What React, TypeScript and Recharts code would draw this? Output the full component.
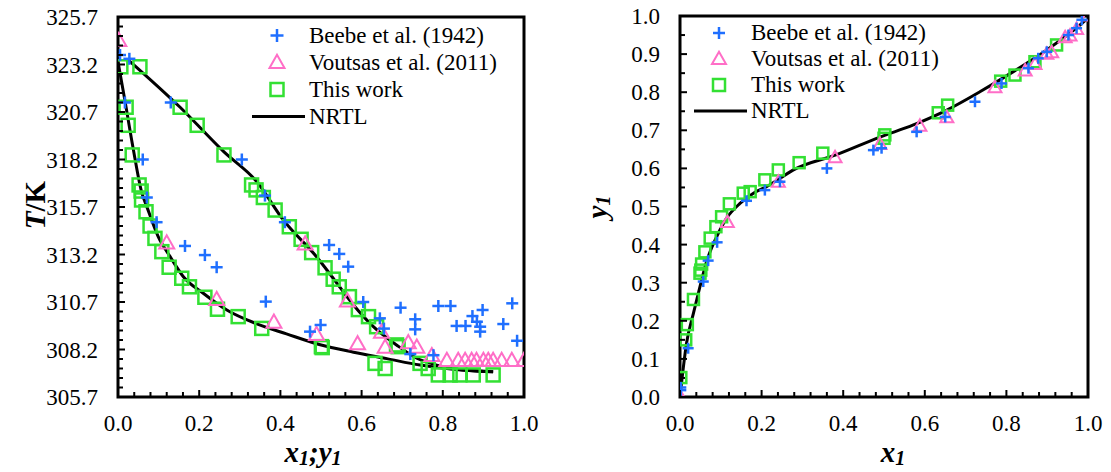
import React from 'react';
import { ComposedChart, Scatter, Line, XAxis, YAxis, ReferenceArea, Legend } from 'recharts';

const FONT = 'Liberation Serif, Tinos, DejaVu Serif, Times New Roman, serif';
const BLUE = '#1f6fff';
const PINK = '#ff6ec7';
const GREEN = '#33e033';
const FS = 23;

// ---- T-x-y (left panel) ----
const beebeTxX = [0.005, 0.028, 0.017, 0.13, 0.061, 0.305, 0.071, 0.362, 0.095, 0.411, 0.165, 0.214, 0.243, 0.52, 0.545, 0.567, 0.364, 0.473, 0.499, 0.604, 0.645, 0.655, 0.696, 0.732, 0.732, 0.72, 0.777, 0.789, 0.819, 0.834, 0.856, 0.873, 0.898, 0.884, 0.892, 0.892, 0.949, 0.971, 0.983];
const beebeTxT = [323.7, 323.5, 321.2, 321.2, 318.2, 318.2, 316.2, 316.3, 314.9, 314.9, 313.65, 313.17, 312.53, 313.7, 313.23, 312.56, 310.72, 309.14, 309.49, 310.7, 309.84, 309.3, 310.4, 309.79, 309.26, 307.96, 307.9, 310.49, 310.49, 309.44, 309.44, 309.96, 310.28, 309.66, 309.4, 309.14, 309.54, 310.63, 308.66];

const voutsasTxX = [0.002, 0.12, 0.243, 0.384, 0.489, 0.461, 0.565, 0.59, 0.649, 0.658, 0.715, 0.736, 0.773, 0.81, 0.838, 0.855, 0.871, 0.883, 0.9, 0.912, 0.924, 0.945, 0.97, 1.0];
const voutsasTxT = [324.4, 313.75, 310.77, 309.58, 308.93, 313.7, 310.7, 308.44, 309.05, 308.26, 308.5, 308.26, 307.82, 307.56, 307.56, 307.56, 307.56, 307.56, 307.56, 307.56, 307.56, 307.56, 307.56, 307.56];

const thisWorkTxX = [0.007, 0.02, 0.025, 0.035, 0.052, 0.057, 0.058, 0.069, 0.079, 0.091, 0.108, 0.126, 0.157, 0.176, 0.214, 0.245, 0.296, 0.354, 0.501, 0.503, 0.633, 0.658,
  0.054, 0.153, 0.195, 0.261, 0.329, 0.34, 0.358, 0.387, 0.422, 0.451, 0.477, 0.51, 0.53, 0.545, 0.57, 0.592, 0.617, 0.637, 0.686, 0.69, 0.744, 0.764,
  0.789, 0.818, 0.842, 0.875, 0.924];
const thisWorkTxT = [323.08, 320.95, 320.0, 318.44, 316.86, 316.54, 316.07, 315.45, 314.7, 314.05, 313.35, 312.53, 311.95, 311.5, 310.95, 310.32, 309.93, 309.31, 308.35, 308.3, 307.47, 307.2,
  323.08, 320.95, 320.0, 318.44, 316.86, 316.6, 316.2, 315.54, 314.66, 314.0, 313.3, 312.5, 311.9, 311.5, 310.98, 310.3, 309.93, 309.4, 308.44, 308.35, 307.47, 307.2,
  306.86, 306.86, 306.86, 306.86, 306.86];

const nrtlBubbleX = [0, 0.017, 0.038, 0.058, 0.071, 0.099, 0.128, 0.161, 0.21, 0.268, 0.342, 0.415, 0.498, 0.58, 0.662, 0.744, 0.826, 0.924];
const nrtlBubbleT = [323.35, 321.3, 318.7, 316.5, 315.72, 314.14, 313.1, 312.03, 311.16, 310.28, 309.55, 309.02, 308.45, 308.06, 307.72, 307.38, 307.16, 307.03];
const nrtlDewY = [0.025, 0.153, 0.261, 0.342, 0.407, 0.489, 0.53, 0.58, 0.629, 0.686, 0.736, 0.785, 0.85, 0.924];
const nrtlDewT = [323.45, 320.95, 318.6, 317.03, 315.02, 313.08, 311.95, 310.54, 309.4, 308.44, 307.74, 307.38, 307.12, 307.03];

// ---- x-y (right panel) ----
const beebeXyX = [0.002, 0.002, 0.02, 0.057, 0.069, 0.091, 0.163, 0.208, 0.245, 0.36, 0.474, 0.494, 0.58, 0.65, 0.723, 0.788, 0.854, 0.878, 0.899, 0.952, 0.972, 0.985];
const beebeXyY = [0.025, 0.018, 0.128, 0.303, 0.358, 0.406, 0.515, 0.543, 0.565, 0.6, 0.648, 0.653, 0.696, 0.735, 0.775, 0.823, 0.863, 0.889, 0.906, 0.95, 0.968, 0.99];

const voutsasXyX = [0, 0.116, 0.241, 0.38, 0.49, 0.588, 0.654, 0.772, 0.846, 0.87, 0.899, 0.911, 0.944, 0.956, 0.972, 1.0];
const voutsasXyY = [0, 0.456, 0.562, 0.626, 0.661, 0.709, 0.731, 0.81, 0.854, 0.871, 0.898, 0.902, 0.941, 0.946, 0.963, 0.998];

const thisWorkXyX = [0.002, 0.014, 0.018, 0.033, 0.049, 0.051, 0.053, 0.061, 0.074, 0.088, 0.102, 0.121, 0.155, 0.172, 0.208, 0.241, 0.292, 0.35, 0.5, 0.502, 0.633, 0.656, 0.786, 0.821, 0.87, 0.923];
const thisWorkXyY = [0.051, 0.15, 0.19, 0.256, 0.325, 0.333, 0.349, 0.381, 0.417, 0.447, 0.473, 0.507, 0.535, 0.539, 0.57, 0.596, 0.615, 0.64, 0.679, 0.688, 0.746, 0.766, 0.829, 0.845, 0.88, 0.924];

const nrtlXyX = [0.002, 0.016, 0.033, 0.049, 0.065, 0.09, 0.114, 0.147, 0.18, 0.212, 0.245, 0.278, 0.384, 0.49, 0.572, 0.654, 0.735, 0.817, 0.899, 0.98, 0.995];
const nrtlXyY = [0.02, 0.141, 0.22, 0.29, 0.355, 0.421, 0.469, 0.508, 0.535, 0.552, 0.574, 0.596, 0.636, 0.682, 0.714, 0.753, 0.801, 0.854, 0.911, 0.976, 0.99];

// ---- ticks ----
const xMajor = [0, 0.2, 0.4, 0.6, 0.8, 1.0];
const tMajor = [305.7, 308.2, 310.7, 313.2, 315.7, 318.2, 320.7, 323.2, 325.7];
const yMajor = [0, 0.1, 0.2, 0.3, 0.4, 0.5, 0.6, 0.7, 0.8, 0.9, 1.0];
const xMinor = Array.from({ length: 26 }, (_, i) => +(i * 0.04).toFixed(2));
const tMinor = Array.from({ length: 41 }, (_, i) => +(305.7 + i * 0.5).toFixed(1));
const yMinor = Array.from({ length: 21 }, (_, i) => +(i * 0.05).toFixed(2));

const zip = (xs: number[], ys: number[]) => xs.map((x, i) => ({ x, y: ys[i] }));
const isIn = (v: number, list: number[]) => list.some((m) => Math.abs(m - v) < 1e-6);

const PlusMark = ({ cx, cy, s, color = BLUE }: any) => (
  <g stroke={color} strokeWidth={2.5}>
    <line x1={cx - s / 2} y1={cy} x2={cx + s / 2} y2={cy} />
    <line x1={cx} y1={cy - s / 2} x2={cx} y2={cy + s / 2} />
  </g>
);
const TriMark = ({ cx, cy, s }: any) => {
  const h = s * 0.88;
  return (
    <polygon
      points={`${cx},${cy - (h * 2) / 3} ${cx - s / 2},${cy + h / 3} ${cx + s / 2},${cy + h / 3}`}
      fill="none"
      stroke={PINK}
      strokeWidth={2}
    />
  );
};
const SqMark = ({ cx, cy, s }: any) => (
  <rect x={cx - s / 2} y={cy - s / 2} width={s} height={s} fill="none" stroke={GREEN} strokeWidth={2.5} />
);

const makeXTick = (major: number[]) => (props: any) => {
  const { x, y, payload } = props;
  const big = isIn(payload.value, major);
  return (
    <g>
      <line x1={x} x2={x} y1={y} y2={y - (big ? 7 : 5)} stroke="#000" strokeWidth={2} />
      {big && (
        <text x={x} y={y + 34} textAnchor="middle" style={{ fontFamily: FONT }} fontSize={FS} fill="#000">
          {payload.value.toFixed(1)}
        </text>
      )}
    </g>
  );
};
const makeYTick = (major: number[]) => (props: any) => {
  const { x, y, payload } = props;
  const big = isIn(payload.value, major);
  return (
    <g>
      <line x1={x} x2={x + (big ? 7 : 5)} y1={y} y2={y} stroke="#000" strokeWidth={2} />
      {big && (
        <text x={x - 20} y={y} dy="0.35em" textAnchor="end" style={{ fontFamily: FONT }} fontSize={FS} fill="#000">
          {payload.value.toFixed(1)}
        </text>
      )}
    </g>
  );
};

const LegendBox = ({ rowH, s }: { rowH: number; s: number }) => {
  const rows = [
    { label: 'Beebe et al. (1942)', kind: 'plus' },
    { label: 'Voutsas et al. (2011)', kind: 'tri' },
    { label: 'This work', kind: 'sq' },
    { label: 'NRTL', kind: 'line' },
  ];
  return (
    <div style={{ fontFamily: FONT, fontSize: FS, color: '#000' }}>
      {rows.map((r) => (
        <div key={r.label} style={{ position: 'relative', height: rowH }}>
          <svg width={64} height={rowH} style={{ position: 'absolute', left: 0, top: 0 }}>
            {r.kind === 'plus' && <PlusMark cx={32} cy={rowH / 2} s={s - 2} />}
            {r.kind === 'tri' && <TriMark cx={32} cy={rowH / 2 + 1} s={s} />}
            {r.kind === 'sq' && <SqMark cx={32} cy={rowH / 2} s={s - 2} />}
            {r.kind === 'line' && <line x1={7} x2={60} y1={rowH / 2} y2={rowH / 2} stroke="#000" strokeWidth={3} />}
          </svg>
          <span style={{ position: 'absolute', left: 64, top: 0, lineHeight: `${rowH}px`, whiteSpace: 'nowrap' }}>
            {r.label}
          </span>
        </div>
      ))}
    </div>
  );
};

const titleStyle: React.CSSProperties = {
  position: 'absolute',
  fontFamily: FONT,
  fontWeight: 'bold',
  fontSize: 29,
  lineHeight: '29px',
  whiteSpace: 'nowrap',
};
const subStyle: React.CSSProperties = { fontSize: 20, lineHeight: 0, verticalAlign: '-0.15em' };

const W = 1111;
const H = 472;

export default function App() {
  const leftW = 560;
  const rightW = W - leftW;
  return (
    <div style={{ position: 'absolute', left: 0, top: 0, width: W, height: H, background: '#fff', fontFamily: FONT }}>
      {/* T-x-y diagram */}
      <div style={{ position: 'absolute', left: 0, top: 0 }}>
        <ComposedChart width={leftW} height={H} margin={{ top: 17, right: 36, bottom: 35, left: 58 }}>
          <XAxis
            dataKey="x"
            type="number"
            domain={[0, 1]}
            ticks={xMinor}
            interval={0}
            allowDataOverflow
            axisLine={false}
            tickLine={false}
            tickSize={0}
            tickMargin={0}
            height={40}
            tick={makeXTick(xMajor)}
          />
          <YAxis
            dataKey="y"
            type="number"
            domain={[305.7, 325.7]}
            ticks={tMinor}
            interval={0}
            allowDataOverflow
            axisLine={false}
            tickLine={false}
            tickSize={0}
            tickMargin={0}
            width={60}
            tick={makeYTick(tMajor)}
          />
          <ReferenceArea x1={0} x2={1} y1={305.7} y2={325.7} fill="none" stroke="#000" strokeWidth={3} fillOpacity={0} />
          <Line data={zip(nrtlBubbleX, nrtlBubbleT)} dataKey="y" type="monotone" stroke="#000" strokeWidth={3} dot={false} isAnimationActive={false} />
          <Line data={zip(nrtlDewY, nrtlDewT)} dataKey="y" type="monotone" stroke="#000" strokeWidth={3} dot={false} isAnimationActive={false} />
          <Scatter data={zip(thisWorkTxX, thisWorkTxT)} shape={(p: any) => <SqMark cx={p.cx} cy={p.cy} s={13} />} isAnimationActive={false} />
          <Scatter data={zip(voutsasTxX, voutsasTxT)} shape={(p: any) => <TriMark cx={p.cx} cy={p.cy} s={15} />} isAnimationActive={false} />
          <Scatter data={zip(beebeTxX, beebeTxT)} shape={(p: any) => <PlusMark cx={p.cx} cy={p.cy} s={12} />} isAnimationActive={false} />
          <Legend
            layout="horizontal"
            verticalAlign="middle"
            wrapperStyle={{ left: 245, top: 22, width: 280 }}
            content={() => <LegendBox rowH={27} s={15} />}
          />
        </ComposedChart>
      </div>

      {/* x-y diagram */}
      <div style={{ position: 'absolute', left: leftW, top: 0 }}>
        <ComposedChart width={rightW} height={H} margin={{ top: 16, right: 23, bottom: 35, left: 60 }}>
          <XAxis
            dataKey="x"
            type="number"
            domain={[0, 1]}
            ticks={xMinor}
            interval={0}
            allowDataOverflow
            axisLine={false}
            tickLine={false}
            tickSize={0}
            tickMargin={0}
            height={40}
            tick={makeXTick(xMajor)}
          />
          <YAxis
            dataKey="y"
            type="number"
            domain={[0, 1]}
            ticks={yMinor}
            interval={0}
            allowDataOverflow
            axisLine={false}
            tickLine={false}
            tickSize={0}
            tickMargin={0}
            width={60}
            tick={makeYTick(yMajor)}
          />
          <ReferenceArea x1={0} x2={1} y1={0} y2={1} fill="none" stroke="#000" strokeWidth={3} fillOpacity={0} />
          <Line data={zip(nrtlXyX, nrtlXyY)} dataKey="y" type="monotone" stroke="#000" strokeWidth={3} dot={false} isAnimationActive={false} />
          <Scatter data={zip(thisWorkXyX, thisWorkXyY)} shape={(p: any) => <SqMark cx={p.cx} cy={p.cy} s={11} />} isAnimationActive={false} />
          <Scatter data={zip(voutsasXyX, voutsasXyY)} shape={(p: any) => <TriMark cx={p.cx} cy={p.cy} s={13} />} isAnimationActive={false} />
          <Scatter data={zip(beebeXyX, beebeXyY)} shape={(p: any) => <PlusMark cx={p.cx} cy={p.cy} s={11} />} isAnimationActive={false} />
          <Legend
            layout="horizontal"
            verticalAlign="middle"
            wrapperStyle={{ left: 127, top: 20, width: 300 }}
            content={() => <LegendBox rowH={26} s={14} />}
          />
        </ComposedChart>
      </div>

      {/* axis titles */}
      <div style={{ ...titleStyle, left: 35, top: 205, transform: 'translate(-50%, -50%) rotate(-90deg)' }}>
        <i>T</i>/K
      </div>
      <div style={{ ...titleStyle, left: 313, top: 438, fontStyle: 'italic', transform: 'translateX(-50%)' }}>
        x<sub style={subStyle}>1</sub>;y<sub style={subStyle}>1</sub>
      </div>
      <div style={{ ...titleStyle, left: 597, top: 207, fontStyle: 'italic', transform: 'translate(-50%, -50%) rotate(-90deg)' }}>
        y<sub style={subStyle}>1</sub>
      </div>
      <div style={{ ...titleStyle, left: 893, top: 438, fontStyle: 'italic', transform: 'translateX(-50%)' }}>
        x<sub style={subStyle}>1</sub>
      </div>
    </div>
  );
}
